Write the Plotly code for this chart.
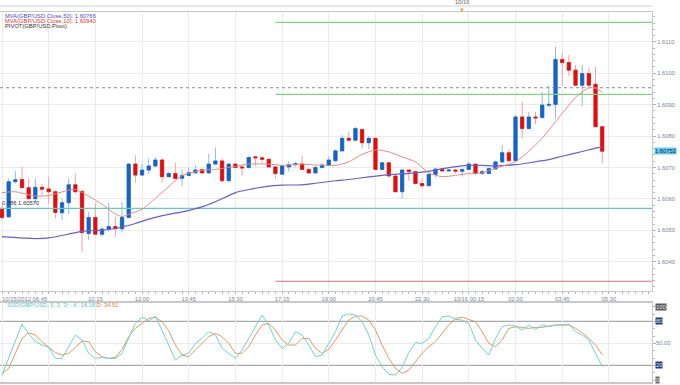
import plotly.graph_objects as go
import pandas as pd

# ---------------- data ----------------
times = pd.date_range("2012-10-15 06:45", periods=91, freq="15min")

open_ = [1.60567, 1.60543, 1.60655, 1.60662, 1.60636, 1.60601, 1.60637, 1.60632, 1.60623, 1.60556,
         1.60588, 1.60645, 1.60624, 1.60490, 1.60541, 1.60488, 1.60504, 1.60512, 1.60505, 1.60541,
         1.60711, 1.60676, 1.60692, 1.60705, 1.60724, 1.60671, 1.60681, 1.60666, 1.60675, 1.60683,
         1.60693, 1.60683, 1.60711, 1.60721, 1.60658, 1.60711, 1.60702, 1.60700, 1.60734, 1.60731,
         1.60726, 1.60702, 1.60679, 1.60702, 1.60709, 1.60711, 1.60694, 1.60683, 1.60700, 1.60707,
         1.60722, 1.60753, 1.60793, 1.60787, 1.60821, 1.60779, 1.60793, 1.60694, 1.60715, 1.60673,
         1.60623, 1.60692, 1.60687, 1.60649, 1.60642, 1.60678, 1.60695, 1.60689, 1.60692, 1.60688,
         1.60694, 1.60711, 1.60681, 1.60681, 1.60695, 1.60718, 1.60747, 1.60722, 1.60861, 1.60824,
         1.60861, 1.60859, 1.60898, 1.60901, 1.61044, 1.61034, 1.61010, 1.60962, 1.60999, 1.60965,
         1.60830]
high = [1.60581, 1.60665, 1.60689, 1.60702, 1.60665, 1.60665, 1.60647, 1.60671, 1.60628, 1.60602,
        1.60665, 1.60681, 1.60628, 1.60559, 1.60586, 1.60512, 1.60588, 1.60543, 1.60591, 1.60713,
        1.60739, 1.60711, 1.60729, 1.60733, 1.60729, 1.60687, 1.60715, 1.60694, 1.60700, 1.60708,
        1.60697, 1.60743, 1.60764, 1.60729, 1.60713, 1.60713, 1.60708, 1.60737, 1.60737, 1.60734,
        1.60728, 1.60703, 1.60707, 1.60721, 1.60718, 1.60736, 1.60697, 1.60705, 1.60715, 1.60736,
        1.60758, 1.60803, 1.60814, 1.60830, 1.60824, 1.60800, 1.60795, 1.60718, 1.60718, 1.60676,
        1.60694, 1.60694, 1.60690, 1.60665, 1.60681, 1.60699, 1.60698, 1.60694, 1.60694, 1.60696,
        1.60718, 1.60713, 1.60692, 1.60699, 1.60722, 1.60771, 1.60758, 1.60867, 1.60909, 1.60877,
        1.60877, 1.60941, 1.60962, 1.61086, 1.61065, 1.61058, 1.61026, 1.61026, 1.61018, 1.61020,
        1.60832]
low = [1.60533, 1.60541, 1.60649, 1.60634, 1.60599, 1.60586, 1.60612, 1.60584, 1.60538, 1.60533,
       1.60552, 1.60618, 1.60430, 1.60469, 1.60485, 1.60480, 1.60496, 1.60480, 1.60493, 1.60538,
       1.60652, 1.60674, 1.60679, 1.60700, 1.60652, 1.60668, 1.60663, 1.60641, 1.60673, 1.60681,
       1.60679, 1.60681, 1.60710, 1.60657, 1.60657, 1.60697, 1.60674, 1.60697, 1.60705, 1.60715,
       1.60700, 1.60665, 1.60678, 1.60687, 1.60702, 1.60692, 1.60678, 1.60681, 1.60697, 1.60705,
       1.60718, 1.60752, 1.60786, 1.60785, 1.60761, 1.60758, 1.60692, 1.60692, 1.60671, 1.60620,
       1.60602, 1.60658, 1.60647, 1.60634, 1.60641, 1.60669, 1.60687, 1.60686, 1.60681, 1.60671,
       1.60692, 1.60675, 1.60676, 1.60680, 1.60694, 1.60715, 1.60718, 1.60718, 1.60793, 1.60822,
       1.60838, 1.60856, 1.60893, 1.60856, 1.60960, 1.60991, 1.60959, 1.60895, 1.60955, 1.60830,
       1.60713]
close = [1.60541, 1.60655, 1.60661, 1.60636, 1.60601, 1.60637, 1.60631, 1.60623, 1.60557, 1.60588,
         1.60645, 1.60623, 1.60493, 1.60541, 1.60488, 1.60504, 1.60512, 1.60505, 1.60541, 1.60711,
         1.60676, 1.60692, 1.60705, 1.60724, 1.60671, 1.60681, 1.60665, 1.60675, 1.60684, 1.60692,
         1.60683, 1.60711, 1.60721, 1.60658, 1.60711, 1.60700, 1.60699, 1.60732, 1.60731, 1.60726,
         1.60702, 1.60681, 1.60705, 1.60709, 1.60712, 1.60694, 1.60683, 1.60700, 1.60708, 1.60724,
         1.60753, 1.60793, 1.60787, 1.60824, 1.60779, 1.60793, 1.60694, 1.60715, 1.60673, 1.60623,
         1.60692, 1.60687, 1.60649, 1.60642, 1.60678, 1.60695, 1.60689, 1.60692, 1.60689, 1.60694,
         1.60711, 1.60681, 1.60687, 1.60697, 1.60718, 1.60747, 1.60722, 1.60861, 1.60824, 1.60861,
         1.60858, 1.60899, 1.60901, 1.61044, 1.61034, 1.61010, 1.60962, 1.60999, 1.60962, 1.60830,
         1.60752]

ma50_t = ["2012-10-15 06:45", "2012-10-15 08:00", "2012-10-15 08:30", "2012-10-15 09:15", "2012-10-15 09:45",
          "2012-10-15 10:30", "2012-10-15 11:00", "2012-10-15 11:45", "2012-10-15 12:15", "2012-10-15 13:00",
          "2012-10-15 13:30", "2012-10-15 14:15", "2012-10-15 14:45", "2012-10-15 15:30", "2012-10-15 16:00",
          "2012-10-15 16:45", "2012-10-15 17:15", "2012-10-15 18:00", "2012-10-15 18:30", "2012-10-15 19:15",
          "2012-10-15 19:45", "2012-10-15 20:30", "2012-10-15 21:00", "2012-10-15 21:45", "2012-10-15 22:15",
          "2012-10-15 23:00", "2012-10-15 23:30", "2012-10-16 00:15", "2012-10-16 00:45", "2012-10-16 01:15",
          "2012-10-16 02:00", "2012-10-16 02:30", "2012-10-16 03:15", "2012-10-16 03:45", "2012-10-16 04:30",
          "2012-10-16 05:00", "2012-10-16 05:15"]
ma50_v = [1.60480, 1.60474, 1.60476, 1.60488, 1.60497, 1.60501, 1.60506, 1.60522, 1.60536, 1.60551,
          1.60559, 1.60575, 1.60591, 1.60620, 1.60630, 1.60641, 1.60644, 1.60645, 1.60650, 1.60658,
          1.60662, 1.60670, 1.60675, 1.60680, 1.60683, 1.60692, 1.60700, 1.60707, 1.60707, 1.60705,
          1.60709, 1.60715, 1.60725, 1.60736, 1.60751, 1.60762, 1.60766]

ma10_t = ["2012-10-15 06:45", "2012-10-15 07:15", "2012-10-15 08:00", "2012-10-15 08:30", "2012-10-15 09:15",
          "2012-10-15 09:30", "2012-10-15 10:00", "2012-10-15 10:30", "2012-10-15 11:00", "2012-10-15 11:15",
          "2012-10-15 11:45", "2012-10-15 12:00", "2012-10-15 12:30", "2012-10-15 13:00", "2012-10-15 13:30",
          "2012-10-15 14:15", "2012-10-15 14:45", "2012-10-15 15:30", "2012-10-15 16:00", "2012-10-15 16:45",
          "2012-10-15 17:15", "2012-10-15 18:00", "2012-10-15 18:30", "2012-10-15 19:15", "2012-10-15 19:45",
          "2012-10-15 20:15", "2012-10-15 20:45", "2012-10-15 21:15", "2012-10-15 21:45", "2012-10-15 22:15",
          "2012-10-15 22:45", "2012-10-15 23:15", "2012-10-15 23:45", "2012-10-16 00:15", "2012-10-16 00:45",
          "2012-10-16 01:15", "2012-10-16 02:00", "2012-10-16 02:30", "2012-10-16 03:00", "2012-10-16 03:30",
          "2012-10-16 04:00", "2012-10-16 04:15", "2012-10-16 04:45", "2012-10-16 05:00", "2012-10-16 05:15"]
ma10_v = [1.60620, 1.60623, 1.60609, 1.60611, 1.60628, 1.60630, 1.60609, 1.60583, 1.60552, 1.60544,
          1.60559, 1.60567, 1.60602, 1.60639, 1.60674, 1.60691, 1.60694, 1.60704, 1.60711, 1.60711,
          1.60707, 1.60711, 1.60708, 1.60707, 1.60718, 1.60742, 1.60756, 1.60750, 1.60734, 1.60718,
          1.60683, 1.60671, 1.60675, 1.60681, 1.60683, 1.60698, 1.60718, 1.60752, 1.60793, 1.60846,
          1.60899, 1.60923, 1.60954, 1.60952, 1.60940]

stoch_k = [6.8, 29.5, 54.5, 76.4, 62.7, 52.3, 47.7, 44.5, 29.5, 29.5,
           45.5, 61.4, 54.5, 36.4, 29.5, 30.9, 29.5, 29.5, 36.4, 56.8,
           77.3, 85.5, 80.9, 87.3, 68.2, 47.7, 27.3, 34.1, 36.4, 50.0,
           56.8, 65.9, 61.4, 43.2, 36.4, 29.5, 40.9, 56.8, 72.7, 88.6,
           75.0, 54.5, 43.2, 50.0, 65.9, 61.4, 47.7, 31.8, 34.1, 50.0,
           65.9, 87.3, 90.0, 88.6, 79.5, 61.4, 34.1, 18.2, 7.7, 6.8,
           17.3, 37.7, 50.9, 50.0, 56.8, 72.7, 86.4, 87.3, 82.7, 81.8,
           77.3, 54.5, 43.2, 34.1, 56.8, 72.7, 75.0, 73.6, 68.2, 75.0,
           69.1, 75.0, 72.7, 75.0, 75.0, 76.4, 65.9, 61.4, 54.5, 36.4,
           18.18]
stoch_d = [8.2, 15.9, 36.4, 56.8, 64.5, 61.4, 52.3, 44.5, 37.3, 34.1,
           36.4, 44.5, 53.2, 52.3, 38.6, 31.8, 29.5, 30.9, 41.8, 59.1,
           70.5, 77.3, 84.1, 85.5, 79.5, 67.3, 47.7, 34.1, 31.8, 40.9,
           50.0, 59.1, 63.6, 59.1, 50.0, 36.4, 36.4, 45.5, 61.4, 75.0,
           77.3, 68.2, 54.5, 47.7, 47.7, 56.8, 56.8, 43.2, 36.4, 41.8,
           54.5, 69.1, 81.8, 87.3, 87.3, 81.8, 68.2, 47.7, 29.5, 15.9,
           9.1, 13.6, 25.0, 36.4, 45.5, 52.3, 63.6, 75.0, 84.1, 85.5,
           82.7, 79.5, 65.9, 50.0, 45.5, 54.5, 70.5, 72.7, 71.8, 70.5,
           71.8, 71.8, 73.6, 75.0, 75.0, 75.0, 70.5, 64.5, 56.8, 47.7,
           34.51]

X_START = "2012-10-15 06:40:30"
X_END = "2012-10-16 07:07:00"
PIVOT_START = "2012-10-15 17:00"
pivot_r2 = 1.61162
pivot_r1 = 1.60933
pivot_s1 = 1.60338
prev_level = 1.60954
fib_level = 1.60570
last_price = 1.60752
stoch_levels = [20, 80]

tick_times = ["2012-10-15 06:45", "2012-10-15 08:30", "2012-10-15 10:15", "2012-10-15 12:00",
              "2012-10-15 13:45", "2012-10-15 15:30", "2012-10-15 17:15", "2012-10-15 19:00",
              "2012-10-15 20:45", "2012-10-15 22:30", "2012-10-16 00:15", "2012-10-16 02:00",
              "2012-10-16 03:45", "2012-10-16 05:30"]
tick_text = ["", "", "10:15", "12:00", "13:45", "15:30", "17:15", "19:00", "20:45", "22:30",
             "10/16 00:15", "02:00", "03:45", "05:30"]

# ---------------- style ----------------
FONT = "Liberation Sans"
FS = 5.8
BLUE, RED = "#1463c6", "#e10d0d"
BLUE_WICK, RED_WICK = "#93b8e6", "#eba3a3"
GRID = "#ebebeb"
FRAME = "#c8c8c8"
AXTXT = "#7a8499"

fig = go.Figure()

# wicks (light) + bodies
fig.add_trace(go.Candlestick(
    x=times, open=open_, high=high, low=low, close=close,
    increasing=dict(line=dict(color=BLUE_WICK, width=1), fillcolor=BLUE),
    decreasing=dict(line=dict(color=RED_WICK, width=1), fillcolor=RED),
    whiskerwidth=0, hoverinfo="skip", showlegend=False, xaxis="x", yaxis="y"))
body_hi = [max(o, c) for o, c in zip(open_, close)]
body_lo = [min(o, c) for o, c in zip(open_, close)]
fig.add_trace(go.Candlestick(
    x=times, open=open_, high=body_hi, low=body_lo, close=close,
    increasing=dict(line=dict(color=BLUE, width=0.6), fillcolor=BLUE),
    decreasing=dict(line=dict(color=RED, width=0.6), fillcolor=RED),
    whiskerwidth=0, hoverinfo="skip", showlegend=False, xaxis="x", yaxis="y"))

# pivot / levels
def hline(x0, x1, y, color, dash="solid", width=1):
    fig.add_trace(go.Scatter(x=[x0, x1], y=[y, y], mode="lines",
                             line=dict(color=color, width=width, dash=dash),
                             hoverinfo="skip", showlegend=False, xaxis="x", yaxis="y"))

hline(X_START, X_END, prev_level, "#8a8a8a", dash="dot", width=1)
hline(X_START, X_END, fib_level, "#62cbc2", width=1.2)
hline(PIVOT_START, X_END, pivot_r2, "#7fd67f", width=1.2)
hline(PIVOT_START, X_END, pivot_r1, "#7fd67f", width=1.2)
hline(PIVOT_START, X_END, pivot_s1, "#d67272", width=1.2)

# moving averages
fig.add_trace(go.Scatter(x=ma50_t, y=ma50_v, mode="lines",
                         line=dict(color="#6b5fc4", width=1.2, shape="spline", smoothing=0.6),
                         hoverinfo="skip", showlegend=False, xaxis="x", yaxis="y"))
fig.add_trace(go.Scatter(x=ma10_t, y=ma10_v, mode="lines",
                         line=dict(color="#e28a8a", width=1, shape="spline", smoothing=0.6),
                         hoverinfo="skip", showlegend=False, xaxis="x", yaxis="y"))

# stochastic
fig.add_trace(go.Scatter(x=times, y=stoch_d, mode="lines",
                         line=dict(color="#e0976a", width=1),
                         hoverinfo="skip", showlegend=False, xaxis="x2", yaxis="y2"))
fig.add_trace(go.Scatter(x=times, y=stoch_k, mode="lines",
                         line=dict(color="#6fd3cc", width=1),
                         hoverinfo="skip", showlegend=False, xaxis="x2", yaxis="y2"))

for lv in stoch_levels:
    fig.add_shape(type="line", xref="x2 domain", yref="y2", x0=0, x1=1, y0=lv, y1=lv,
                  line=dict(color="#a9a9a9", width=1.2), layer="below")

# top day line
fig.add_shape(type="line", xref="paper", yref="paper", x0=0, x1=1, y0=1, y1=1,
              line=dict(color="#cfcfcf", width=1))

tf = dict(family=FONT, size=FS, color=AXTXT)
fig.update_layout(
    width=680, height=385,
    margin=dict(l=0, r=28, t=6, b=3),
    paper_bgcolor="white", plot_bgcolor="white",
    font=dict(family=FONT, size=FS, color=AXTXT),
    showlegend=False,
    xaxis=dict(domain=[0, 1], anchor="y", type="date", range=[X_START, X_END],
               tickmode="array", tickvals=tick_times, ticktext=tick_text,
               ticks="outside", ticklen=2, tickcolor="#b0b0b0", tickfont=tf,
               showgrid=True, gridcolor=GRID, gridwidth=1,
               showline=True, linecolor=FRAME, mirror=True, zeroline=False,
               minor=dict(dtick=900000, tick0="2012-10-15 06:45", ticks="outside",
                          ticklen=1.5, tickcolor="#b8b8b8", showgrid=False),
               rangeslider=dict(visible=False), fixedrange=True),
    yaxis=dict(domain=[0.242, 0.984], anchor="x", side="right", range=[1.60307, 1.61195],
               tickmode="linear", tick0=1.6, dtick=0.001, tickformat=".4f",
               ticks="outside", ticklen=3, tickcolor="#b0b0b0", tickfont=tf,
               showgrid=True, gridcolor=GRID, gridwidth=1,
               showline=True, linecolor=FRAME, mirror=True, zeroline=False,
               minor=dict(dtick=0.0002, ticks="outside", ticklen=1.5, tickcolor="#b8b8b8",
                          showgrid=False)),
    xaxis2=dict(domain=[0, 1], anchor="y2", type="date", matches="x",
                tickmode="array", tickvals=tick_times, showticklabels=False, ticks="",
                showgrid=True, gridcolor=GRID, gridwidth=1,
                showline=True, linecolor=FRAME, linewidth=1.5, mirror=True, zeroline=False,
                rangeslider=dict(visible=False)),
    yaxis2=dict(domain=[0, 0.21], anchor="x2", side="right", range=[-2.7, 105],
                tickmode="array", tickvals=[50], showticklabels=False,
                ticks="outside", ticklen=3, tickcolor="#b0b0b0",
                showgrid=True, gridcolor=GRID, gridwidth=1,
                showline=True, linecolor=FRAME, mirror=True, zeroline=False,
                minor=dict(dtick=10, tick0=0, ticks="outside", ticklen=1.5,
                           tickcolor="#b8b8b8", showgrid=False)),
)

ann = []
# indicator legends
ann.append(dict(xref="paper", yref="paper", x=0.005, y=0.974, xanchor="left", yanchor="middle",
                text="MVA(GBP/USD,Close,50): 1.60766", showarrow=False,
                font=dict(family=FONT, size=FS, color="#4d4dbb")))
ann.append(dict(xref="paper", yref="paper", x=0.005, y=0.960, xanchor="left", yanchor="middle",
                text="MVA(GBP/USD,Close,10): 1.60940", showarrow=False,
                font=dict(family=FONT, size=FS, color="#e03434")))
ann.append(dict(xref="paper", yref="paper", x=0.005, y=0.946, xanchor="left", yanchor="middle",
                text="PIVOT(GBP/USD,Pivot)", showarrow=False,
                font=dict(family=FONT, size=FS, color="#333333")))
# fib label
ann.append(dict(xref="paper", yref="y", x=0.0, y=fib_level, xanchor="left", yanchor="bottom",
                text="0.786 1.60570", showarrow=False, yshift=0,
                font=dict(family=FONT, size=FS, color="#333333")))
# first x label
ann.append(dict(xref="x", yref="paper", x=tick_times[0], y=0.242, xanchor="left", yanchor="top",
                text="10/15/2012 06:45", showarrow=False, xshift=-2, yshift=-3,
                font=dict(family=FONT, size=FS, color=AXTXT)))
# last price box
ann.append(dict(xref="paper", yref="y", x=1, y=last_price, xanchor="left", yanchor="middle",
                text="1.60752", showarrow=False, xshift=2, bgcolor="#66c8f0", borderpad=0,
                font=dict(family=FONT, size=FS, color="#1b2a4a")))
# day marker
ann.append(dict(xref="x", yref="paper", x="2012-10-16 00:00", y=1, xanchor="center",
                yanchor="bottom", text="10/16", showarrow=False, yshift=-1,
                font=dict(family=FONT, size=FS, color="#666666")))
ann.append(dict(xref="x", yref="paper", x="2012-10-16 00:00", y=1, xanchor="center",
                yanchor="top", text="▼", showarrow=False, yshift=1,
                font=dict(family=FONT, size=6, color="#f0a020")))
# stochastic legend
ann.append(dict(xref="paper", yref="paper", x=0.008, y=0.205, xanchor="left", yanchor="middle",
                text="<span style='color:#56c9c0'>SSD(GBP/USD, 5, 3, 3) - K: 18.18</span>"
                     "<span style='color:#e07a3c'> D: 34.51</span>",
                showarrow=False, font=dict(family=FONT, size=FS)))
# stochastic axis labels
for val, txt, bg, fc in [(100, "100", "#5a5a5a", "#e8e8e8"), (80, "80", "#2b3a78", "#dfe6ff"),
                         (50, "50.00", None, AXTXT), (20, "20", "#2b3a78", "#dfe6ff"),
                         (0, "0", "#6a6a6a", "#e8e8e8")]:
    d = dict(xref="paper", yref="y2", x=1, y=val, xanchor="left", yanchor="middle",
             text=txt, showarrow=False, xshift=3, borderpad=0,
             font=dict(family=FONT, size=FS, color=fc))
    if bg:
        d["bgcolor"] = bg
    ann.append(d)

fig.update_layout(annotations=ann)

fig.write_html("out.html",
               config={"displayModeBar": False},
               post_script="document.body.style.margin='0px';document.body.style.padding='0px';")
